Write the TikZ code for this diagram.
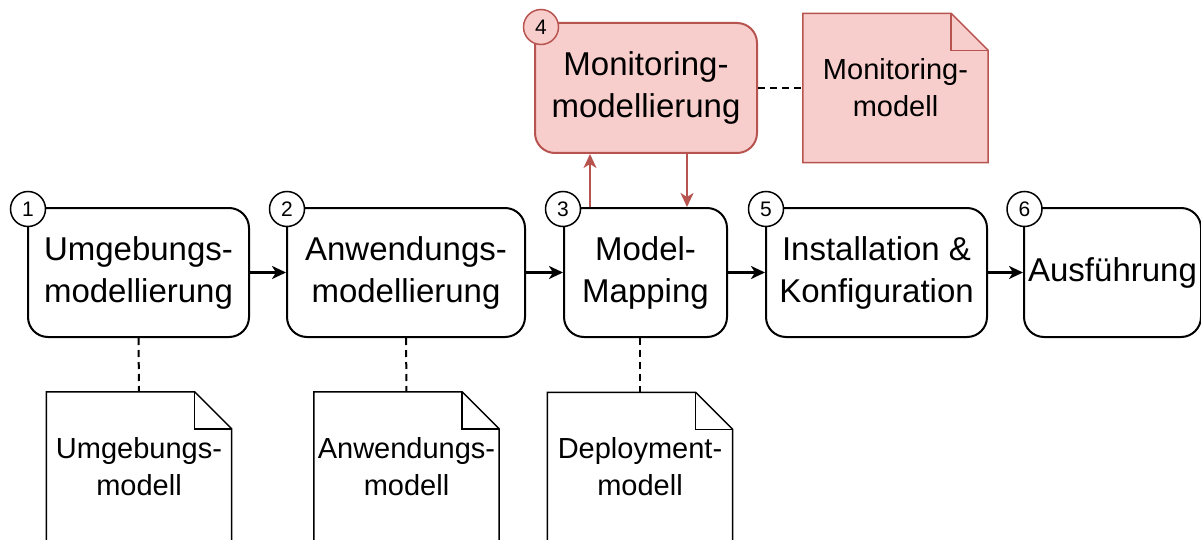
\documentclass[tikz,border=0pt]{standalone}
\usepackage{fontspec}
\setmainfont{Liberation Sans}
\usetikzlibrary{arrows.meta,calc}
\definecolor{redfill}{HTML}{F8CECC}
\definecolor{redline}{HTML}{B85450}
\tikzset{
  stepbox/.style={draw=black, line width=2pt, rounded corners=20pt, fill=white,
    minimum height=129pt, inner sep=0pt, align=center,
    font=\fontsize{33}{42}\selectfont},
  redbox/.style={stepbox, draw=redline, fill=redfill, minimum height=130pt},
  numcircle/.style={circle, draw=black, line width=1.5pt, fill=white,
    minimum size=35pt, inner sep=0pt, font=\fontsize{21}{21}\selectfont},
  redcircle/.style={numcircle, draw=redline, fill=redfill},
  notebox/.style={minimum width=185pt, minimum height=149pt, inner sep=0pt},
  notetext/.style={align=center, inner sep=0pt, font=\fontsize{29}{37}\selectfont},
  flow/.style={-{Stealth[length=14pt,width=13pt,inset=4pt]}, line width=2.5pt},
  redflow/.style={-{Stealth[length=14pt,width=13pt,inset=4pt]}, line width=2pt, draw=redline, color=redline},
  link/.style={line width=2pt, dash pattern=on 7pt off 5pt}
}
% dog-eared paper outline for a (text-less) note node
\newcommand\notepaper[3]{%
  \draw[line width=1.5pt, draw=#3, fill=#2, line join=miter]
    (#1.north west) -- ($(#1.north east)+(-37pt,0pt)$) -- ($(#1.north east)+(0pt,-37pt)$)
    -- (#1.south east) -- (#1.south west) -- cycle;
  \draw[line width=1.5pt, draw=#3, line join=miter]
    ($(#1.north east)+(-37pt,0pt)$) -- ($(#1.north east)+(-37pt,-37pt)$) -- ($(#1.north east)+(0pt,-37pt)$);
}
\begin{document}
\begin{tikzpicture}[x=1pt,y=-1pt]
\useasboundingbox (0,0) rectangle (1201,540);
\clip (0,0) rectangle (1201,540);

% process steps
\node[stepbox, minimum width=221pt] (b1) at (138.5,272.5) {Umgebungs-\\modellierung};
\node[stepbox, minimum width=238pt] (b2) at (406,272.5) {Anwendungs-\\modellierung};
\node[stepbox, minimum width=163pt] (b3) at (645.5,272.5) {Model-\\Mapping};
\node[stepbox, minimum width=221pt] (b5) at (876.5,272.5) {Installation \&\\Konfiguration};
\node[stepbox, minimum width=177pt] (b6) at (1112.5,272.5) {Ausführung};
\node[redbox, minimum width=222pt] (b4) at (646,88) {Monitoring-\\modellierung};

% flow between steps
\draw[flow] (b1.east) -- (b2.west);
\draw[flow] (b2.east) -- (b3.west);
\draw[flow] (b3.east) -- (b5.west);
\draw[flow] (b5.east) -- (b6.west);

% monitoring loop
\coordinate (up) at ([xshift=27pt]b3.north west);
\draw[redflow] (up) -- (up |- b4.south);
\coordinate (dn) at ([xshift=153pt]b4.south west);
\draw[redflow] (dn) -- (dn |- b3.north);

% step numbers
\node[numcircle] (c1) at (28,209) {1};
\node[numcircle] (c2) at (287,209) {2};
\node[numcircle] (c3) at (563,209) {3};
\node[redcircle] (c4) at (541,27) {4};
\node[numcircle] (c5) at (766,209) {5};
\node[numcircle] (c6) at (1024.5,209) {6};

% model artefacts
\node[notebox] (nm) at (895.5,88) {};
\notepaper{nm}{redfill}{redline}
\node[notetext] (nmt) at (nm) {Monitoring-\\modell};

\node[notebox] (n1) at (139,466.5) {};
\notepaper{n1}{white}{black}
\node[notetext] (n1t) at (n1) {Umgebungs-\\modell};

\node[notebox] (n2) at (406.5,466.5) {};
\notepaper{n2}{white}{black}
\node[notetext] (n2t) at (n2) {Anwendungs-\\modell};

\node[notebox] (n3) at (640,467) {};
\notepaper{n3}{white}{black}
\node[notetext] (n3t) at (n3) {Deployment-\\modell};

% artefact links
\draw[link] (b1.south) -- (n1.north);
\draw[link] (b2.south) -- (n2.north);
\draw[link] (n3.north |- b3.south) -- (n3.north);
\draw[link] (b4.east) -- (nm.west);
\end{tikzpicture}
\end{document}
